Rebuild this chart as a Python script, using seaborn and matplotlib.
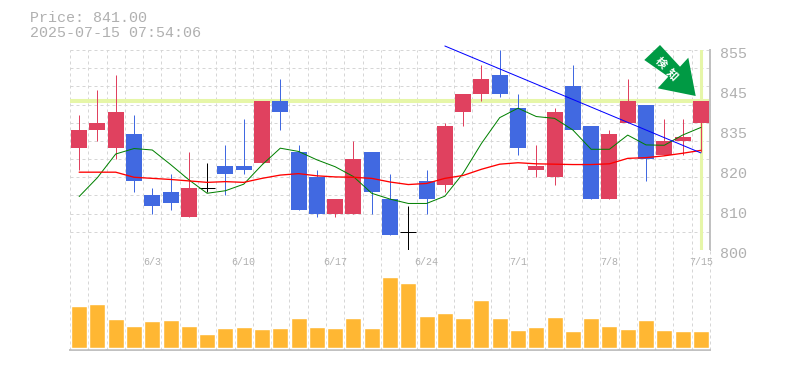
#!/usr/bin/env python3
import matplotlib
matplotlib.use('Agg')
import pandas as pd
import matplotlib.pyplot as plt
import seaborn as sns
from matplotlib.patches import Polygon
from matplotlib.transforms import ScaledTranslation

Dates = ['5/28', '5/29', '5/30', '6/2', '6/3', '6/4', '6/5', '6/6', '6/9', '6/10',
		 '6/11', '6/12', '6/13', '6/16', '6/17', '6/18', '6/19', '6/20', '6/23', '6/24',
		 '6/25', '6/26', '6/27', '6/30', '7/1', '7/2', '7/3', '7/4', '7/7', '7/8',
		 '7/9', '7/10', '7/11', '7/14', '7/15']

Open = [828, 833, 828, 832, 815, 816, 809, 817, 823, 823,
		824, 841, 827, 820, 810, 810, 827, 814, 805, 819,
		818, 838, 843, 848, 839, 822, 820, 845, 834, 814,
		835, 840, 826, 830, 835]
Close = [833, 835, 838, 819, 812, 813, 817, 817, 821, 822,
		 841, 838, 811, 810, 814, 825, 816, 804, 805, 814,
		 834, 843, 847, 843, 828, 823, 838, 833, 814, 832,
		 841, 825, 830, 831, 841]
High = [837, 844, 848, 837, 817, 821, 827, 824, 829, 836,
		841, 847, 829, 822, 814, 830, 827, 821, 812, 822,
		835, 843, 851, 855, 843, 829, 839, 851, 834, 833,
		847, 840, 836, 836, 841]
Low = [822, 830, 825, 816, 810, 811, 809, 816, 815, 821,
	   824, 833, 811, 809, 809, 810, 810, 804, 800, 810,
	   816, 834, 841, 842, 826, 820, 818, 833, 814, 814,
	   835, 819, 826, 826, 827]

MaShort = [814.7, 819.9, 826.4, 827.9, 827.5, 823.5, 819.3, 815.6, 816.3, 818.1,
		   823.4, 828.0, 827.1, 824.8, 822.9, 820.2, 815.6, 814.0, 812.8, 812.8,
		   814.8, 821.1, 829.3, 836.4, 839.0, 836.7, 836.2, 833.0, 827.7, 827.7,
		   831.6, 828.9, 828.8, 831.6, 833.7]
MaLong = [821.4, 821.4, 821.4, 820.0, 819.7, 819.4, 819.0, 818.6, 818.8, 818.6,
		  819.7, 820.6, 821.0, 820.4, 820.1, 820.0, 819.7, 818.7, 818.0, 818.3,
		  819.7, 820.5, 822.2, 823.6, 824.0, 823.7, 823.6, 823.5, 823.5, 823.7,
		  825.2, 825.4, 825.9, 826.6, 827.4]

Volume = [42.3, 44.3, 29.3, 22.3, 27.3, 28.3, 22.3, 14.3, 20.3, 21.3,
		  19.3, 20.3, 30.3, 21.3, 20.3, 30.3, 20.3, 71.3, 65.3, 32.3,
		  35.3, 30.3, 48.3, 30.3, 18.3, 21.3, 31.3, 17.3, 30.3, 22.3,
		  19.3, 28.3, 18.3, 17.3, 17.3]

TrendX = [20, 34]
TrendY = [856.1, 826.7]

Price = 841
PriceText = 'Price: 841.00'
TimeText = '2025-07-15 07:54:06'
YTicks = [800, 811, 822, 833, 844, 855]
YLabels = ['800', '810', '820', '835', '845', '855']
DateTicks = [4, 9, 14, 19, 24, 29, 34]
ArrowText = ['検', '知']

ColUp = '#e0415f'
ColDown = '#4169e1'
ColVol = '#ffb733'
ColGrid = '#d6d6d6'
ColFrame = '#c0c0c0'
ColText = '#b0b0b0'
ColHigh = '#e6f6a8'

W, H = 785, 370
Px = 0.72

sns.set_theme(style='white')
plt.rcParams['font.family'] = ['Liberation Mono', 'DejaVu Sans']

fig = plt.figure(figsize=(W/100, H/100), dpi=100)
ax1 = fig.add_axes([70/W, 1-250/H, 640/W, 200/H])
ax2 = fig.add_axes([70/W, 1-350/H, 640/W, 100/H])

df = pd.DataFrame({'day': range(len(Dates)), 'date': Dates, 'open': Open, 'close': Close,
				   'high': High, 'low': Low, 'short': MaShort, 'long': MaLong, 'vol': Volume})


def DrawGrid(ax):
	for x in range(len(Dates)+1):
		ax.axvline(x-0.5, color=ColGrid, lw=Px, dashes=(3, 3), zorder=0, clip_on=False)


""" price panel """
DrawGrid(ax1)
for y in range(805, 856, 5):
	ax1.axhline(y, color=ColGrid, lw=Px, dashes=(3, 3), zorder=0, clip_on=False)
ax1.axhline(Price, color=ColHigh, lw=2.9, zorder=1)
ax1.axvline(df['day'].iloc[-1], color=ColHigh, lw=2.2, zorder=1)

for _, row in df.iterrows():
	if row['close'] > row['open']:
		col = ColUp
	elif row['close'] < row['open']:
		col = ColDown
	else:
		col = 'black'
	wick = ax1.vlines(row['day'], row['low'], row['high'], color=col, lw=Px, zorder=3)
	wick.set_snap(True)
	if col == 'black':
		bar = ax1.hlines(row['open'], row['day']-0.44, row['day']+0.44, color=col, lw=Px, zorder=3)
		bar.set_snap(True)
	else:
		ax1.bar(row['day'], row['close']-row['open'], bottom=row['open'], width=0.875,
				color=col, linewidth=0, zorder=3)

sns.lineplot(data=df, x='day', y='short', color='#008000', lw=Px, ax=ax1, zorder=4)
sns.lineplot(data=df, x='day', y='long', color='#ff0000', lw=0.95, ax=ax1, zorder=4)
ax1.plot(TrendX, TrendY, color='#0000ff', lw=Px, zorder=5, clip_on=False)

ax1.set_xlim(-0.5, len(Dates)-0.5)
ax1.set_ylim(800, 855)
ax1.set_xlabel('')
ax1.set_ylabel('')
ax1.set_xticks([])
ax1.set_yticks(YTicks)
ax1.set_yticklabels(YLabels)
ax1.yaxis.tick_right()
ax1.tick_params(axis='y', length=0, pad=7, labelsize=10.8, labelcolor=ColText)
Shift = ScaledTranslation(0, 3/100, fig.dpi_scale_trans)
for lab in ax1.get_yticklabels():
	lab.set_verticalalignment('top')
	lab.set_transform(lab.get_transform()+Shift)
sns.despine(ax=ax1, left=True, top=True, right=True, bottom=True)

""" volume panel """
DrawGrid(ax2)
sns.barplot(data=df, x='date', y='vol', color=ColVol, saturation=1, width=0.875,
			order=Dates, ax=ax2, zorder=3)
ax2.set_xlim(-0.5, len(Dates)-0.5)
ax2.set_ylim(-1.7, 98.3)
ax2.set_xlabel('')
ax2.set_ylabel('')
ax2.set_yticks([])
ax2.set_xticks([])
for d in DateTicks:
	ax2.annotate(Dates[d], xy=(d, 1), xycoords=('data', 'axes fraction'), xytext=(0, -12),
				 textcoords='offset pixels', ha='center', va='center', fontsize=7.2, color=ColText)
sns.despine(ax=ax2, left=True)
for side in ['top', 'right', 'bottom']:
	ax2.spines[side].set_color(ColFrame)
	ax2.spines[side].set_linewidth(1.4)
ax1.spines['right'].set_visible(True)
ax1.spines['right'].set_color(ColFrame)
ax1.spines['right'].set_linewidth(1.4)

""" header text """
fig.text(29.5/W, 1-18/H, PriceText, fontsize=10.8, color=ColText, va='center')
fig.text(29.5/W, 1-33/H, TimeText, fontsize=10.8, color=ColText, va='center')

""" signal arrow """
ArrowPx = [(695.7, 96), (657.7, 88.3), (668.3, 76.7), (644.3, 60), (660, 45), (680, 66.7), (688.3, 57.7)]
fig.add_artist(Polygon([(x/W, 1-y/H) for x, y in ArrowPx], closed=True, facecolor='#009a44',
					   edgecolor='none', transform=fig.transFigure, zorder=6))
for ch, (cx, cy) in zip(ArrowText, [(660.5, 63), (672, 74.5)]):
	fig.text(cx/W, 1-cy/H, ch, family=['Noto Sans CJK JP', 'DejaVu Sans'], fontsize=8,
			 fontweight='bold', color='white', rotation=-45, ha='center', va='center', zorder=7)

plt.savefig('out.png', dpi=100)
